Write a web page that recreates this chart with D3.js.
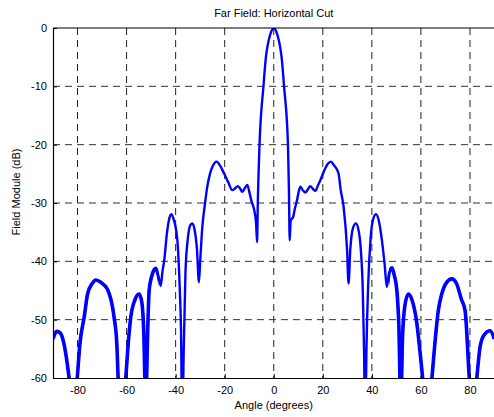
<!DOCTYPE html>
<html>
<head>
<meta charset="utf-8">
<script src="https://cdn.jsdelivr.net/npm/d3@7"></script>
<style>
  body { margin: 0; background: #fff; }
  svg { display: block; font-family: "Liberation Sans", Arial, sans-serif; }
</style>
</head>
<body>
<svg id="chart" width="494" height="417"></svg>
<script>
// angle in degrees, field module in dB
const angles = [
  -90, -88.5, -87, -85.5, -84.2, -83.3, -81.7, -80.2, -79, -77.3, -75.9, -74, -72.5, -70.5, -67.8,
  -65.1, -64, -63.4, -62, -60.4, -59.5, -58.3, -56.5, -54.9, -53.8, -53, -52.2, -51.4, -50.8,
  -49.5, -48.1, -47, -46.1, -45.3, -44.7, -43.5, -42.5, -41.7, -40.8, -39.3, -38.3, -37.8, -37.3,
  -36.7, -36, -35, -34, -33.2, -32.3, -31.3, -30.5, -30, -29.1, -28, -27.1, -26, -25, -23.3, -22,
  -20.3, -18.5, -16.9, -15.8, -14.6, -13.6, -12.9, -12, -10.8, -10, -9.2, -8.4, -7.7, -7.2, -6.8,
  -6.5, -5.8, -4.2, -3.2, -2.5, -1.5, 0,
  1.5, 2.5, 3.2, 4.2, 5.8, 6.2, 6.5, 6.9, 7.9, 8.6, 9.5, 10.2, 10.9, 11.8, 12.9, 14, 14.9, 16, 17,
  18, 19, 20.5, 22, 23.3, 24.5, 26.4, 27.3, 28.5, 29.9, 30.5, 31.2, 32.3, 33.5, 34.5, 35.5, 36.3,
  36.8, 37.3, 37.8, 38.5, 39.5, 40.7, 41.7, 42.8, 44.1, 45.2, 46.1, 47, 48.2, 49.2, 50.2, 51,
  51.8, 52.5, 53.5, 54.9, 56.5, 58.3, 59.5, 60.8, 62.5, 64.4, 65.5, 67.1, 68.5, 70.5, 72.6, 74.5,
  76.5, 78, 79.8, 81.3, 82.7, 84, 85.5, 88.2, 89.9
];
const fieldDb = [
  -53.3, -52.0, -52.3, -54.2, -57.5, -60.5, -68, -60.5, -54, -49.6, -45.6, -43.8, -43.2, -43.6, -44.8,
  -49.6, -54, -60.5, -70, -60.5, -55, -49.6, -46.5, -45.6, -47, -52, -65, -52, -45,
  -42.2, -41.2, -42.5, -44.2, -41.5, -40, -35, -32.5, -31.9, -32.8, -36.4, -45, -52, -70,
  -55, -42, -36, -33.8, -33.5, -34.5, -38, -43.6, -40, -34, -30, -27.2, -25, -23.8, -22.9, -23.5,
  -24.9, -26.5, -27.8, -27.5, -27.1, -27.6, -28.1, -27.6, -26.9, -28, -29.5, -30.5, -31.8, -33.5, -36.7,
  -30, -20, -10, -5, -3, -1.2, 0,
  -1.2, -3, -5, -10, -20, -28, -36.4, -33, -32.4, -31, -29.5, -28, -27.2, -27.8, -28.2, -27.6, -27.1, -27.6, -27.9,
  -27, -26.1, -24.5, -23.3, -22.9, -23.5, -24.9, -27.8, -30.7, -38.1, -43.8, -38, -34.3, -33.5, -34.5, -38, -45,
  -55, -70, -55, -44, -36, -32.5, -31.9, -33, -36.4, -40.5, -44.4, -42, -41.1, -42.5, -45, -51,
  -65, -53, -47.5, -45.6, -46.8, -50.5, -55, -60.5, -70, -60.5, -55, -48.4, -45.6, -43.6, -43, -43.8,
  -46.5, -48.4, -60.5, -68, -60.5, -55, -52.8, -51.9, -53.3
];
const xTicks = [-80, -60, -40, -20, 0, 20, 40, 60, 80];
const yTicks = [-60, -50, -40, -30, -20, -10, 0];

const data = angles.map((a, i) => ({ angle: a, db: fieldDb[i] }));

const margin = { top: 28, right: -0.5, bottom: 39, left: 53 };
const svg = d3.select('#chart');
const width = 494 - margin.left - margin.right;
const height = 417 - margin.top - margin.bottom;

const xScale = d3.scaleLinear().domain([-90, 90]).range([0, width]);
const yScale = d3.scaleLinear().domain([-60, 0]).range([height, 0]);

const chart = svg.append('g')
  .attr('transform', `translate(${margin.left},${margin.top})`);

// clip paths
const defs = svg.append('defs');
defs.append('clipPath').attr('id', 'plot-clip')
  .append('rect').attr('width', width).attr('height', height);
const outer = defs.append('clipPath').attr('id', 'outer-clip');
outer.append('rect')
  .attr('x', 0).attr('width', xScale(-47)).attr('height', height);
outer.append('rect')
  .attr('x', xScale(47)).attr('width', width - xScale(47)).attr('height', height);

// dashed grid
chart.append('g')
  .selectAll('line')
  .data(xTicks)
  .join('line')
  .attr('x1', d => xScale(d)).attr('x2', d => xScale(d))
  .attr('y1', 0).attr('y2', height)
  .attr('stroke', '#222')
  .attr('stroke-dasharray', '7,5');

chart.append('g')
  .selectAll('line')
  .data(yTicks.filter(d => d > -60 && d < 0))
  .join('line')
  .attr('x1', 0).attr('x2', width)
  .attr('y1', d => yScale(d)).attr('y2', d => yScale(d))
  .attr('stroke', '#333')
  .attr('stroke-dasharray', '7,5');

// curve
const line = d3.line()
  .x(d => xScale(d.angle))
  .y(d => yScale(d.db))
  .curve(d3.curveMonotoneX);

const plot = chart.append('g').attr('clip-path', 'url(#plot-clip)');
plot.append('path')
  .datum(data)
  .attr('d', line)
  .attr('fill', 'none')
  .attr('stroke', '#0000ff')
  .attr('stroke-width', 2.4)
  .attr('stroke-linejoin', 'round');

// the far sidelobes look thicker in the original (dense ripple)
plot.append('g').attr('clip-path', 'url(#outer-clip)')
  .append('path')
  .datum(data)
  .attr('d', line)
  .attr('fill', 'none')
  .attr('stroke', '#0000ff')
  .attr('stroke-width', 3.6)
  .attr('stroke-linejoin', 'round');

// axes (ticks inside, like matlab), plain hyphen minus signs
const fmt = d => String(d);
const xAxis = d3.axisBottom(xScale).tickValues(xTicks).tickFormat(fmt)
  .tickSize(-4).tickPadding(8).tickSizeOuter(0);
const yAxis = d3.axisLeft(yScale).tickValues(yTicks).tickFormat(fmt)
  .tickSize(-4).tickPadding(6).tickSizeOuter(0);

const xAxisG = chart.append('g')
  .attr('transform', `translate(0,${height})`)
  .call(xAxis);
const yAxisG = chart.append('g').call(yAxis);

[xAxisG, yAxisG].forEach(g => {
  g.select('.domain').attr('stroke', '#000').attr('stroke-width', 1.2);
  g.selectAll('.tick line').attr('stroke', '#000');
  g.selectAll('.tick text')
    .attr('fill', '#000')
    .style('font-family', '"Liberation Sans", Arial, sans-serif')
    .style('font-size', '11px');
});

// top border
chart.append('line')
  .attr('x1', 0).attr('x2', width)
  .attr('y1', 0).attr('y2', 0)
  .attr('stroke', '#000').attr('stroke-width', 1.2);

// title and axis labels
svg.append('text')
  .attr('x', margin.left + xScale(0))
  .attr('y', 17)
  .attr('text-anchor', 'middle')
  .style('font-size', '11px')
  .text('Far Field: Horizontal Cut');

svg.append('text')
  .attr('x', margin.left + xScale(0))
  .attr('y', 409)
  .attr('text-anchor', 'middle')
  .style('font-size', '11px')
  .text('Angle (degrees)');

svg.append('text')
  .attr('transform', `translate(20,192) rotate(-90)`)
  .attr('text-anchor', 'middle')
  .style('font-size', '11px')
  .text('Field Module (dB)');
</script>
</body>
</html>
